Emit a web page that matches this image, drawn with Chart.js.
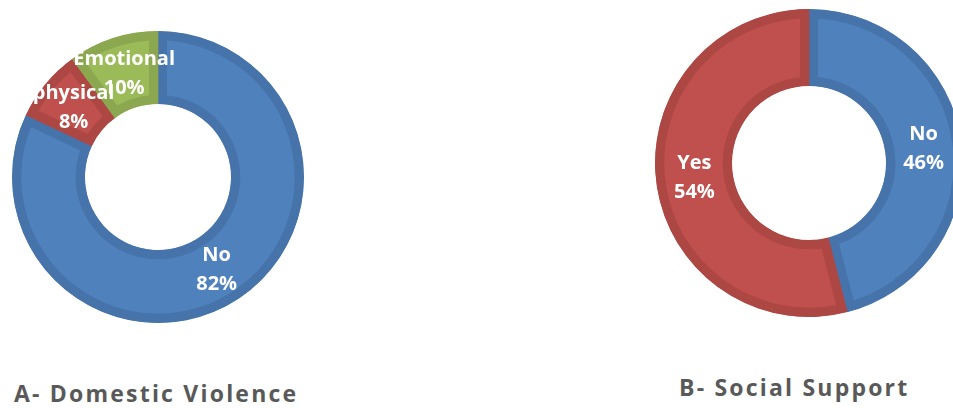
<!DOCTYPE html>
<html lang="en">
<head>
  <meta charset="UTF-8" />
  <title>Domestic Violence and Social Support</title>
  <script src="https://cdn.jsdelivr.net/npm/chart.js"></script>
  <style>
    html, body {
      margin: 0;
      padding: 0;
      width: 953px;
      height: 408px;
      overflow: hidden;
      background: #fff;
      font-family: "Open Sans", Arial, sans-serif;
    }
    .box {
      position: absolute;
    }
    #box-a { left: 12px; top: 31px; width: 292px; height: 292px; }
    #box-b { left: 655px; top: 9px; width: 308px; height: 308px; }
    .caption {
      position: absolute;
      font-weight: bold;
      font-size: 23px;
      color: #595959;
      white-space: nowrap;
      letter-spacing: 2.2px;
    }
    #cap-a { left: 14px; top: 377px; }
    #cap-b { left: 679px; top: 371px; }
  </style>
</head>
<body>
  <div class="box" id="box-a"><canvas id="chartA"></canvas></div>
  <div class="box" id="box-b"><canvas id="chartB"></canvas></div>
  <div class="caption" id="cap-a">A- Domestic Violence</div>
  <div class="caption" id="cap-b">B- Social Support</div>

  <script>
    // A - domestic violence
    const violenceLabels = ['No', 'physical', 'Emotional'];
    const violenceValues = [82, 8, 10];

    // B - social support
    const supportLabels = ['No', 'Yes'];
    const supportValues = [46, 54];

    const blue = '#4F81BD', red = '#C0504D', green = '#9BBB59';
    const blueDark = '#4673AA', redDark = '#AD4744', greenDark = '#8BA74F';

    // draws "label\nvalue%" in the middle of each ring slice
    const sliceLabels = {
      id: 'sliceLabels',
      afterDatasetsDraw(chart) {
        const ctx = chart.ctx;
        const meta = chart.getDatasetMeta(0);
        const labels = chart.data.labels;
        const values = chart.data.datasets[0].data;
        ctx.save();
        ctx.fillStyle = '#fff';
        ctx.font = 'bold 20px "Open Sans", Arial, sans-serif';
        ctx.textAlign = 'center';
        ctx.textBaseline = 'middle';
        meta.data.forEach((arc, i) => {
          const p = arc.getCenterPoint();
          ctx.fillText(labels[i], p.x, p.y - 14);
          ctx.fillText(values[i] + '%', p.x, p.y + 15);
        });
        ctx.restore();
      }
    };

    function makeRing(id, labels, values, fills, borders) {
      return new Chart(document.getElementById(id), {
        type: 'doughnut',
        data: {
          labels: labels,
          datasets: [{
            data: values,
            backgroundColor: fills,
            borderColor: borders,
            borderWidth: 9,
            borderAlign: 'inner'
          }]
        },
        options: {
          responsive: true,
          maintainAspectRatio: false,
          animation: false,
          cutout: '50%',
          layout: { padding: 0 },
          plugins: {
            legend: { display: false },
            tooltip: { enabled: false }
          }
        },
        plugins: [sliceLabels]
      });
    }

    makeRing('chartA', violenceLabels, violenceValues, [blue, red, green], [blueDark, redDark, greenDark]);
    makeRing('chartB', supportLabels, supportValues, [blue, red], [blueDark, redDark]);
  </script>
</body>
</html>
